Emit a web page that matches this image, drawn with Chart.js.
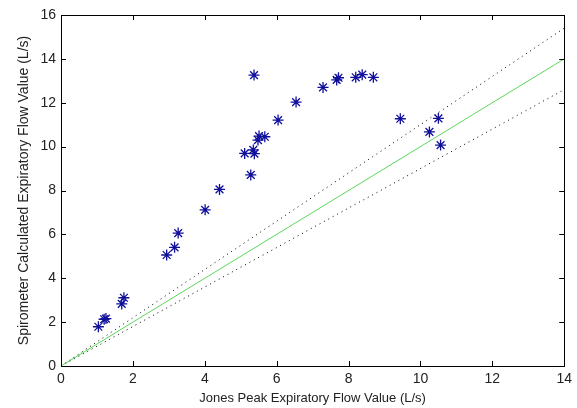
<!DOCTYPE html>
<html>
<head>
<meta charset="utf-8">
<script src="https://cdn.jsdelivr.net/npm/chart.js@4/dist/chart.umd.min.js"></script>
<style>
  html, body { margin: 0; padding: 0; background: #fff; }
  #wrap { width: 577px; height: 408px; }
</style>
</head>
<body>
<div id="wrap"><canvas id="chart" width="577" height="408"></canvas></div>
<script>
const jonesValues = [1.04, 1.20, 1.25, 1.69, 1.75, 2.94, 3.16, 3.26, 4.01, 4.41,
    5.28, 5.11, 5.35, 5.38, 5.48, 5.51, 5.67, 6.04, 6.54, 5.37,
    7.29, 7.67, 7.72, 8.20, 8.38, 8.69, 9.44, 10.25, 10.50, 10.56];
const spiroValues = [1.79, 2.13, 2.16, 2.83, 3.11, 5.06, 5.41, 6.06, 7.12, 8.05,
    8.71, 9.69, 9.85, 9.68, 10.30, 10.48, 10.45, 11.21, 12.03, 13.26,
    12.70, 13.04, 13.14, 13.16, 13.28, 13.16, 11.27, 10.67, 11.29, 10.07];

// reference lines: identity and +/- 10 %
const lineX = [0, 14];
const identityY = [0, 14];
const upperY = [0, 15.4];
const lowerY = [0, 12.6];

const xTicks = [0, 2, 4, 6, 8, 10, 12, 14];
const yTicks = [0, 2, 4, 6, 8, 10, 12, 14, 16];

const xTitle = 'Jones Peak Expiratory Flow Value (L/s)';
const yTitle = 'Spirometer Calculated Expiratory Flow Value (L/s)';

function toPoints(xs, ys) {
    let pts = [];
    for (let i = 0; i < xs.length; ++i) {
        pts.push({x: xs[i], y: ys[i]});
    }
    return pts;
}

// matlab style box with inward ticks on all four sides
const boxTicks = {
    id: 'boxTicks',
    afterDraw: function(chart) {
        const ctx = chart.ctx;
        const a = chart.chartArea;
        const xs = chart.scales.x, ys = chart.scales.y;
        const len = 5;
        ctx.save();
        ctx.strokeStyle = '#000';
        ctx.lineWidth = 1;
        ctx.strokeRect(Math.round(a.left) + 0.5, Math.round(a.top) + 0.5,
            Math.round(a.right - a.left), Math.round(a.bottom - a.top));
        ctx.beginPath();
        xTicks.forEach(function(v) {
            const px = Math.round(xs.getPixelForValue(v)) + 0.5;
            ctx.moveTo(px, a.bottom); ctx.lineTo(px, a.bottom - len);
            ctx.moveTo(px, a.top); ctx.lineTo(px, a.top + len);
        });
        yTicks.forEach(function(v) {
            const py = Math.round(ys.getPixelForValue(v)) + 0.5;
            ctx.moveTo(a.left, py); ctx.lineTo(a.left + len, py);
            ctx.moveTo(a.right, py); ctx.lineTo(a.right - len, py);
        });
        ctx.stroke();
        ctx.restore();
    }
};

const tickFont = {family: 'Liberation Sans, Arial, sans-serif', size: 14};
const xTitleFont = {family: 'Liberation Sans, Arial, sans-serif', size: 13};
const yTitleFont = {family: 'Liberation Sans, Arial, sans-serif', size: 14};

const ctx = document.getElementById('chart');
const chart = new Chart(ctx, {
    type: 'scatter',
    data: {
        datasets: [
            {
                label: 'data',
                data: toPoints(jonesValues, spiroValues),
                pointStyle: 'star',
                pointRadius: 5.5,
                pointBorderWidth: 1.3,
                borderColor: '#10109a',
                backgroundColor: '#10109a',
                showLine: false
            },
            {
                label: 'identity',
                data: toPoints(lineX, identityY),
                showLine: true, pointRadius: 0,
                borderColor: 'rgb(90,215,90)', borderWidth: 1
            },
            {
                label: 'upper',
                data: toPoints(lineX, upperY),
                showLine: true, pointRadius: 0,
                borderColor: '#000', borderWidth: 1, borderDash: [1, 4]
            },
            {
                label: 'lower',
                data: toPoints(lineX, lowerY),
                showLine: true, pointRadius: 0,
                borderColor: '#000', borderWidth: 1, borderDash: [1, 4]
            }
        ]
    },
    options: {
        responsive: false,
        animation: false,
        layout: {padding: {top: 15, right: 10, left: 0, bottom: 0}},
        plugins: {legend: {display: false}, tooltip: {enabled: false}},
        scales: {
            x: {
                type: 'linear', min: 0, max: 14,
                afterBuildTicks: function(s) { s.ticks = xTicks.map(v => ({value: v})); },
                afterFit: function(s) { s.height = 42; },
                grid: {display: false, drawTicks: false},
                border: {display: false},
                ticks: {color: '#222', font: tickFont, padding: 5, maxRotation: 0},
                title: {display: true, text: xTitle, color: '#222', font: xTitleFont, padding: {top: 0, bottom: 2}}
            },
            y: {
                type: 'linear', min: 0, max: 16,
                afterBuildTicks: function(s) { s.ticks = yTicks.map(v => ({value: v})); },
                afterFit: function(s) { s.width = 61; },
                grid: {display: false, drawTicks: false},
                border: {display: false},
                ticks: {color: '#222', font: tickFont, padding: 5},
                title: {display: true, text: yTitle, color: '#222', font: yTitleFont, padding: {top: 16, bottom: 0}}
            }
        }
    },
    plugins: [boxTicks]
});
</script>
</body>
</html>
